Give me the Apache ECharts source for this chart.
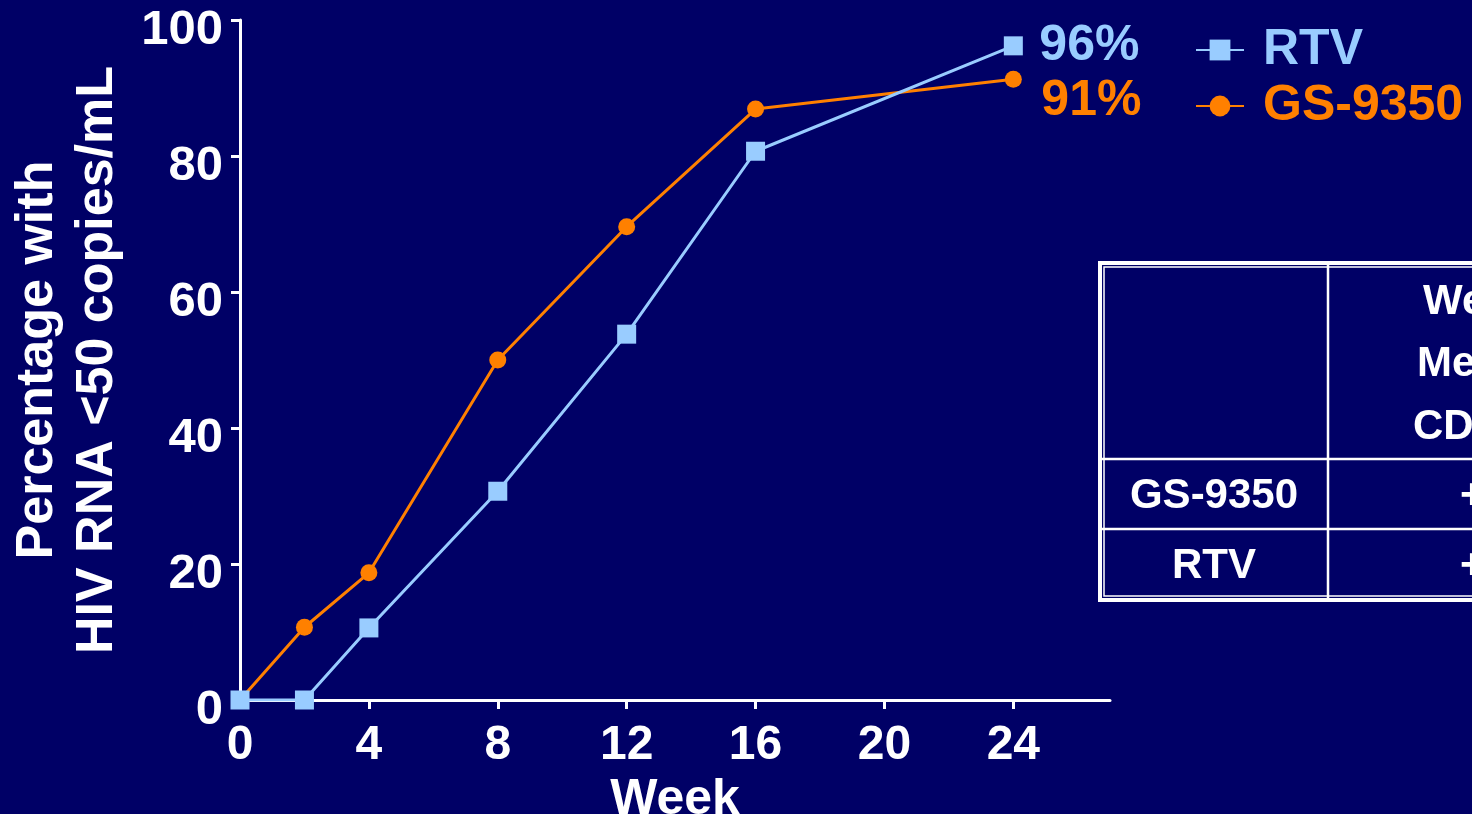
<!DOCTYPE html>
<html>
<head>
<meta charset="utf-8">
<script src="https://cdn.jsdelivr.net/npm/echarts@6/dist/echarts.min.js"></script>
<style>
html,body{margin:0;padding:0;background:#000066;}
#c{width:1472px;height:814px;}
</style>
</head>
<body>
<div id="c"></div>
<script>
// ---- data ----
var weeks = [0, 2, 4, 8, 12, 16, 24];
var rtvValues = [0, 0, 10.6, 30.7, 53.8, 80.7, 96.2];
var gsValues = [0, 10.7, 18.7, 50.0, 69.6, 86.9, 91.3];
var seriesNames = ['RTV', 'GS-9350'];
var endLabels = ['96%', '91%'];
var xTicks = [0, 4, 8, 12, 16, 20, 24];
var yTicks = [0, 20, 40, 60, 80, 100];
var tableHeader = ['Week 24', 'Mean change', 'CD4 count'];
var tableRowNames = ['GS-9350', 'RTV'];
var tableRowValues = ['+176', '+183'];

var BG = '#000066', BLUE = '#99CCFF', ORANGE = '#FF8000', WHITE = '#FFFFFF';
var FONT = '"Liberation Sans", Arial, sans-serif';

function pairs(xs, ys) { return xs.map(function (x, i) { return [x, ys[i]]; }); }

var chart = echarts.init(document.getElementById('c'), null, {renderer: 'canvas'});

var tx = 1100, ty = 263, tw = 620, th = 337;
var colX = 1328, row1 = 459, row2 = 529;

var graphics = [
  {type: 'rect', shape: {x: tx, y: ty, width: tw, height: th}, style: {fill: 'none', stroke: WHITE, lineWidth: 4}, z: 10},
  {type: 'rect', shape: {x: tx + 4, y: ty + 4, width: tw - 8, height: th - 8}, style: {fill: 'none', stroke: WHITE, lineWidth: 1.5}, z: 10},
  {type: 'line', shape: {x1: colX, y1: ty, x2: colX, y2: ty + th}, style: {stroke: WHITE, lineWidth: 2.5}, z: 10},
  {type: 'line', shape: {x1: tx, y1: row1, x2: tx + tw, y2: row1}, style: {stroke: WHITE, lineWidth: 2.5}, z: 10},
  {type: 'line', shape: {x1: tx, y1: row2, x2: tx + tw, y2: row2}, style: {stroke: WHITE, lineWidth: 2.5}, z: 10}
];
var headerY = [302, 364, 427];
var headerX = [1423, 1417, 1413];
tableHeader.forEach(function (t, i) {
  graphics.push({type: 'text', x: headerX[i], y: headerY[i], z: 11,
    style: {text: t, fill: WHITE, font: 'bold 42px ' + FONT, textAlign: 'left', textVerticalAlign: 'middle'}});
});
var rowY = [496, 566];
tableRowNames.forEach(function (t, i) {
  graphics.push({type: 'text', x: 1214, y: rowY[i], z: 11,
    style: {text: t, fill: WHITE, font: 'bold 42px ' + FONT, textAlign: 'center', textVerticalAlign: 'middle'}});
  graphics.push({type: 'text', x: 1460, y: rowY[i], z: 11,
    style: {text: tableRowValues[i], fill: WHITE, font: 'bold 42px ' + FONT, textAlign: 'left', textVerticalAlign: 'middle'}});
});

var option = {
  backgroundColor: BG,
  animation: false,
  textStyle: {fontFamily: FONT},
  grid: {left: 240, right: 362, top: 20, bottom: 114, containLabel: false, outerBoundsMode: 'none'},
  legend: {
    orient: 'vertical', left: 1190, top: 18,
    itemWidth: 48, itemHeight: 26, itemGap: 2,
    textStyle: {fontSize: 50, fontWeight: 'bold', fontFamily: FONT, padding: [0, 0, 0, 14], lineHeight: 54},
    data: [
      {name: seriesNames[0], textStyle: {color: BLUE}},
      {name: seriesNames[1], textStyle: {color: ORANGE}}
    ]
  },
  xAxis: {
    type: 'value', min: 0, max: 27,
    name: 'Week', nameLocation: 'middle', nameGap: 68,
    nameTextStyle: {color: WHITE, fontSize: 50, fontWeight: 'bold', fontFamily: FONT},
    axisLine: {show: true, onZero: false, lineStyle: {color: WHITE, width: 3}},
    axisTick: {show: true, length: 9, lineStyle: {color: WHITE, width: 3}, customValues: xTicks},
    axisLabel: {color: WHITE, fontSize: 48, fontWeight: 'bold', fontFamily: FONT, margin: 22, customValues: xTicks},
    splitLine: {show: false}
  },
  yAxis: {
    type: 'value', min: 0, max: 100, interval: 20,
    name: 'Percentage with\nHIV RNA <50 copies/mL', nameLocation: 'middle', nameGap: 112, nameRotate: 90,
    nameTextStyle: {color: WHITE, fontSize: 52, fontWeight: 'bold', fontFamily: FONT, lineHeight: 60},
    axisLine: {show: true, lineStyle: {color: WHITE, width: 3}},
    axisTick: {show: true, length: 9, lineStyle: {color: WHITE, width: 3}},
    axisLabel: {color: WHITE, fontSize: 49, fontWeight: 'bold', fontFamily: FONT, margin: 17,
      verticalAlign: 'top', lineHeight: 20, customValues: yTicks},
    splitLine: {show: false}
  },
  series: [
    {
      name: seriesNames[0], type: 'line', data: pairs(weeks, rtvValues),
      symbol: 'rect', symbolSize: 19, z: 3,
      lineStyle: {color: BLUE, width: 3}, itemStyle: {color: BLUE},
      endLabel: {show: true, formatter: function () { return endLabels[0]; }, color: BLUE,
        fontSize: 50, fontWeight: 'bold', fontFamily: FONT, distance: 26, offset: [0, 0]}
    },
    {
      name: seriesNames[1], type: 'line', data: pairs(weeks, gsValues),
      symbol: 'circle', symbolSize: 17, z: 2,
      lineStyle: {color: ORANGE, width: 3}, itemStyle: {color: ORANGE},
      endLabel: {show: true, formatter: function () { return endLabels[1]; }, color: ORANGE,
        fontSize: 50, fontWeight: 'bold', fontFamily: FONT, distance: 28, offset: [0, 22]}
    }
  ],
  graphic: graphics
};
chart.setOption(option);
</script>
</body>
</html>
